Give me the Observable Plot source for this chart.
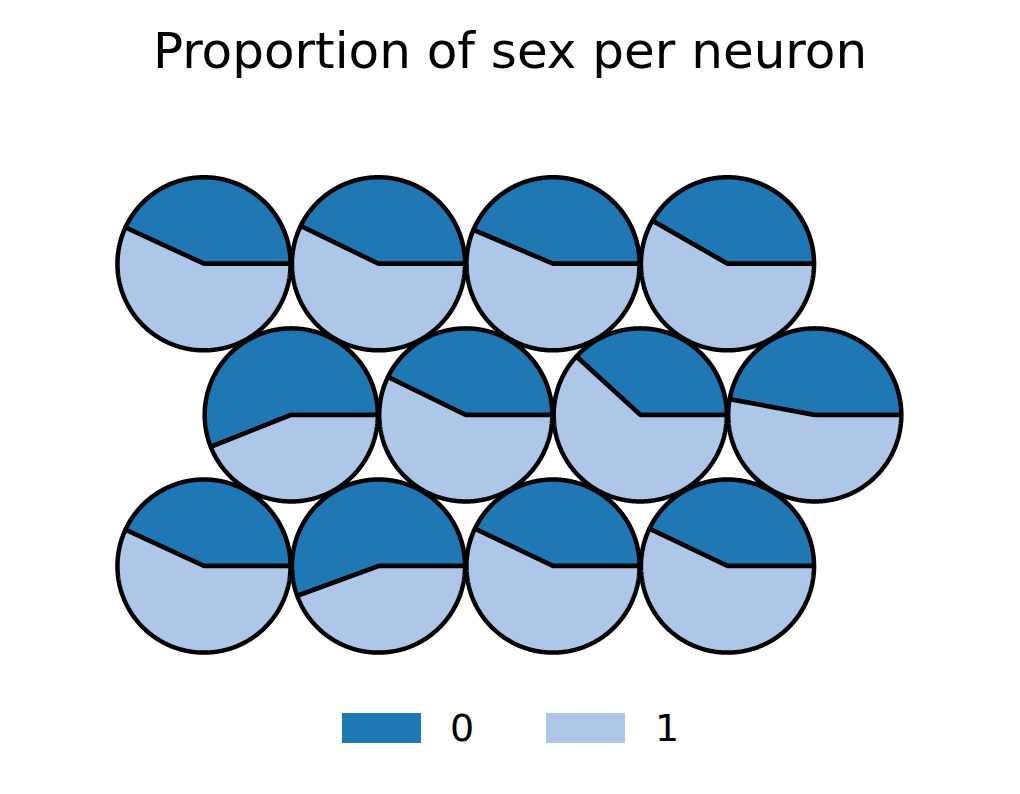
<!DOCTYPE html>
<html>
<head>
<meta charset="utf-8">
<script src="https://cdn.jsdelivr.net/npm/d3@7"></script>
<script src="https://cdn.jsdelivr.net/npm/@observablehq/plot@0.6"></script>
<style>
  html, body { margin: 0; padding: 0; background: #fff; }
  #fig { position: relative; width: 1020px; height: 794px; font-family: "DejaVu Sans", sans-serif; color: #000; }
  #title { position: absolute; left: 0; top: 26px; width: 1020px; text-align: center; font-size: 50px; line-height: 50px; white-space: nowrap; }
  #chart { position: absolute; left: 0; top: 100px; }
  #legend { position: absolute; top: 709px; left: 0; width: 1020px; height: 40px; font-size: 38px; line-height: 38px; }
  .sw { position: absolute; top: 4px; width: 79px; height: 30px; }
  .lb { position: absolute; top: 0; }
</style>
</head>
<body>
<div id="fig">
  <div id="title">Proportion of sex per neuron</div>
  <div id="chart"></div>
  <div id="legend"></div>
</div>
<script>
// ---- data ----
const sexLabels = ["0", "1"];
const sexColors = ["#1f77b4", "#aec7e8"];
const neuronRow = [0, 0, 0, 0, 1, 1, 1, 1, 2, 2, 2, 2];
const neuronCol = [0, 1, 2, 3, 0, 1, 2, 3, 0, 1, 2, 3];
const propSex0 = [0.431, 0.428, 0.436, 0.417, 0.560, 0.428, 0.382, 0.471, 0.431, 0.556, 0.429, 0.429];

// ---- build wedge polygons in hex-grid data units ----
const R = 0.496;
const wedges = [[], []];
neuronRow.forEach((row, i) => {
  const cx = neuronCol[i] + 0.5 * (row % 2);
  const cy = row * Math.sqrt(3) / 2;
  const p = propSex0[i];
  const spans = [[0, p], [p, 1]];
  spans.forEach(([a0, a1], k) => {
    const t0 = a0 * 2 * Math.PI, t1 = a1 * 2 * Math.PI;
    const n = Math.max(2, Math.ceil((t1 - t0) / (Math.PI / 360)));
    const id = i + "-" + k;
    wedges[k].push({id, x: cx, y: cy});
    for (let j = 0; j <= n; j++) {
      const t = t0 + (t1 - t0) * j / n;
      wedges[k].push({id, x: cx + R * Math.cos(t), y: cy - R * Math.sin(t)});
    }
  });
});

const unit = 174.5;
const x0 = 203.5, y0 = 163.3;
const chart = Plot.plot({
  width: 1020,
  height: 590,
  margin: 0,
  x: {domain: [-0.5, 4], range: [x0 - 0.5 * unit, x0 + 4 * unit], axis: null},
  y: {domain: [-0.5, 2.25], range: [y0 - 0.5 * unit, y0 + 2.25 * unit], axis: null},
  marks: sexLabels.map((s, k) => Plot.line(wedges[k], {
    x: "x", y: "y", z: "id",
    curve: "linear-closed",
    fill: sexColors[k],
    stroke: "#000",
    strokeWidth: 4.5,
    strokeLinejoin: "miter",
    strokeLinecap: "butt"
  }))
});
document.getElementById("chart").appendChild(chart);

// ---- legend ----
const legendSw = [342, 546];
const legendLb = [450, 655];
const lg = document.getElementById("legend");
sexLabels.forEach((s, k) => {
  const sw = document.createElement("div");
  sw.className = "sw";
  sw.style.left = legendSw[k] + "px";
  sw.style.background = sexColors[k];
  lg.appendChild(sw);
  const lb = document.createElement("div");
  lb.className = "lb";
  lb.style.left = legendLb[k] + "px";
  lb.textContent = s;
  lg.appendChild(lb);
});
</script>
</body>
</html>
